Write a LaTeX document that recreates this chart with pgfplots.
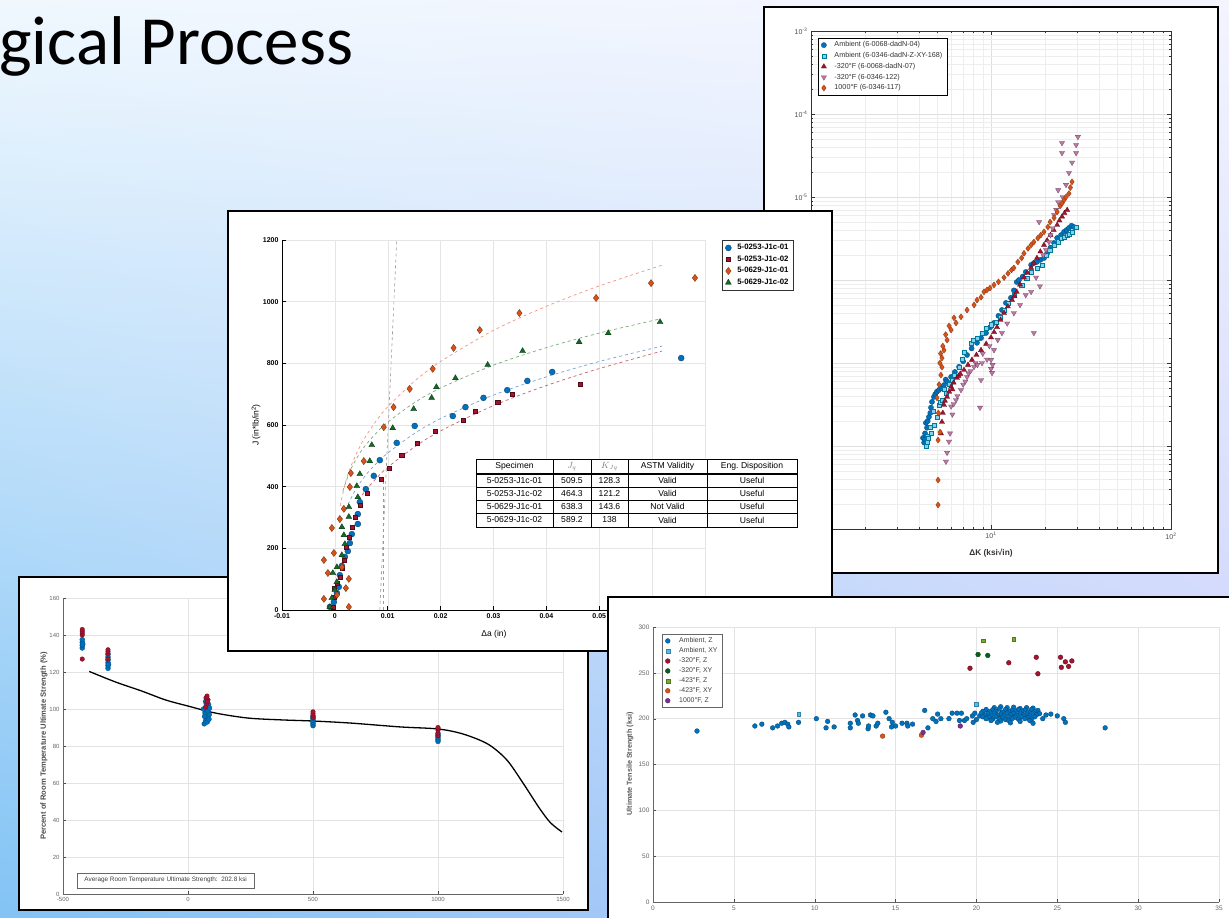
\documentclass[border=0pt]{standalone}
\usepackage{pgfplots}
\pgfplotsset{compat=1.18}
\usetikzlibrary{shadings}
\usepackage{fontspec}
\setmainfont{Liberation Sans}
\newfontfamily\titlefont{Carlito}
\definecolor{mblue}{RGB}{0,114,189}
\definecolor{mcyan}{RGB}{77,190,238}
\definecolor{mred}{RGB}{162,20,47}
\definecolor{mpink}{RGB}{190,120,165}
\definecolor{morange}{RGB}{217,83,25}
\definecolor{mgreen}{RGB}{20,105,40}
\definecolor{dgreen}{RGB}{0,100,30}
\definecolor{lgreen}{RGB}{119,172,48}
\definecolor{mpurple}{RGB}{126,47,142}
\definecolor{bgUL}{RGB}{240,248,254}
\definecolor{bgUR}{RGB}{244,244,255}
\definecolor{bgLL}{RGB}{130,195,245}
\definecolor{bgLR}{RGB}{195,205,250}
\definecolor{fitO}{RGB}{240,150,130}
\definecolor{fitG}{RGB}{120,170,120}
\definecolor{fitB}{RGB}{120,160,220}
\definecolor{fitR}{RGB}{205,95,105}
\definecolor{cyanedge}{RGB}{0,120,150}
\begin{document}
\begin{tikzpicture}
\useasboundingbox (0pt,0pt) rectangle (1229pt,918pt);
\clip (0pt,0pt) rectangle (1229pt,918pt);
\shade[upper left=bgUL, upper right=bgUR, lower left=bgLL, lower right=bgLR] (0pt,0pt) rectangle (1229pt,918pt);
\node[anchor=base west, font=\titlefont\fontsize{69}{80}\selectfont, inner sep=0pt] at (-1pt,853pt) {gical Process};

% ================= Panel A (log-log) =================
\fill[white] (764pt,345pt) rectangle (1218pt,911pt);
\draw[line width=1.5pt] (764pt,345pt) rectangle (1218pt,911pt);
\begin{axis}[at={(811pt,389pt)}, anchor=south west, width=360pt, height=498pt, scale only axis,
  xmode=log, ymode=log, xmin=1, xmax=100, ymin=1e-9, ymax=1e-3,
  axis line style={black!80, line width=0.6pt},
  tick pos=both, tick align=inside, major tick length=4pt, minor tick length=2pt,
  tick style={black!80},
  grid=both, major grid style={gray!25}, minor grid style={gray!14},
  xtick={1,10,100}, xticklabels={,10\textsuperscript{1},10\textsuperscript{2}},
  ytick={1e-9,1e-8,1e-7,1e-6,1e-5,1e-4,1e-3},
  yticklabels={10\textsuperscript{-9},10\textsuperscript{-8},10\textsuperscript{-7},10\textsuperscript{-6},10\textsuperscript{-5},10\textsuperscript{-4},10\textsuperscript{-3}},
  tick label style={font=\fontsize{7}{8}\selectfont, text=black!70},
  legend style={at={(0.0194,0.986)}, anchor=north west, font=\fontsize{7.2}{8}\selectfont, draw=black, line width=0.6pt, inner xsep=3pt, inner ysep=1.5pt, row sep=0pt, text=black!80, /tikz/every odd column/.append style={column sep=6pt}},
  legend cell align=left]
\addplot[only marks, mark=*, mark size=2.6pt, mark options={fill=mblue, draw=mblue!60!black, line width=0.3pt}] coordinates {
(4.19,1.25e-8) (4.25,1.1e-8) (4.30,1.42e-8) (4.3,1.2e-8) (4.35,1.9e-8) (4.41,1.66e-8) (4.45,2.0e-8) (4.52,2.24e-8) (4.6,2.5e-8) (4.64,2.9e-8) (4.7,3.4e-8) (4.82,3.9e-8) (4.9,4.2e-8) (5.0,4.5e-8) (5.14,4.73e-8) (5.3,5.0e-8) (5.48,5.43e-8) (5.6,6.3e-8) (5.7,6.0e-8) (6.0,6.8e-8) (6.3,7.8e-8) (6.64,9.0e-8) (7.0,1.05e-7) (7.36,1.25e-7) (7.8,1.5e-7) (8.36,1.75e-7) (8.8,2.0e-7) (9.38,2.3e-7) (9.9,2.7e-7) (10.39,3.04e-7) (11.0,3.7e-7) (11.5,4.35e-7) (12.1,5.3e-7) (12.9,6.1e-7) (13.4,7.5e-7) (13.9,9.45e-7) (14.3,1.0e-6) (15.0,1.1e-6) (15.6,1.25e-6) (16.7,1.52e-6) (17.3,1.6e-6) (18.0,1.65e-6) (18.8,1.75e-6) (19.7,1.84e-6) (20.5,2.1e-6) (21.4,2.45e-6) (22.4,2.8e-6) (23.3,3.21e-6) (24.5,3.48e-6) (25.45,3.8e-6) (26.3,4.0e-6) (27.1,4.24e-6) (28.0,4.5e-6) (28.9,4.35e-6)};
\addlegendentry{Ambient (6-0068-dadN-04)}
\addplot[only marks, mark=square*, mark size=2.1pt, mark options={fill=mcyan!70, draw=cyanedge, line width=0.4pt}] coordinates {
(4.35,9.9e-9) (4.41,1.1e-8) (4.4,1.3e-8) (4.5,1.25e-8) (4.6,1.7e-8) (4.64,1.42e-8) (4.75,2.6e-8) (4.85,1.8e-8) (5.01,2.24e-8) (5.14,3.12e-8) (5.2,3.4e-8) (5.35,3.6e-8) (5.5,4.8e-8) (5.62,4.35e-8) (5.9,5.5e-8) (6.1,6.2e-8) (6.23,7.16e-8) (6.64,9.0e-8) (6.9,1.1e-7) (7.08,1.36e-7) (7.74,1.75e-7) (8.0,1.9e-7) (8.36,2.0e-7) (8.9,2.3e-7) (9.38,2.62e-7) (10.0,2.9e-7) (10.66,3.1e-7) (11.2,3.6e-7) (11.81,4.35e-7) (12.5,5.2e-7) (13.5,6.6e-7) (14.8,8.71e-7) (15.8,1.05e-6) (16.7,1.25e-6) (18.0,1.4e-6) (19.2,1.52e-6) (20.2,2.0e-6) (21.2,2.3e-6) (22.4,2.64e-6) (23.5,2.9e-6) (24.5,3.21e-6) (25.4,3.3e-6) (26.5,3.48e-6) (27.3,3.6e-6) (28.2,3.8e-6) (29.7,4.35e-6)};
\addlegendentry{Ambient (6-0346-dadN-Z-XY-168)}
\addplot[only marks, mark=triangle*, mark size=3pt, mark options={fill=mred, draw=mred!60!black, line width=0.3pt}] coordinates {
(5.27,1.42e-8) (5.34,1.95e-8) (5.4,2.5e-8) (5.48,3.12e-8) (5.55,3.5e-8) (5.70,3.9e-8) (5.85,4.5e-8) (6.0,5.15e-8) (6.1,4.8e-8) (6.2,5.8e-8) (6.47,6.6e-8) (6.6,7.0e-8) (6.75,7.4e-8) (7.08,8.24e-8) (7.45,9.5e-8) (7.84,1.09e-7) (8.3,1.25e-7) (8.8,1.43e-7) (9.4,1.7e-7) (10.0,2.03e-7) (10.4,2.35e-7) (10.8,2.7e-7) (11.3,3.3e-7) (11.81,4.0e-7) (12.4,4.8e-7) (13.08,5.74e-7) (13.5,6.4e-7) (13.9,7.2e-7) (14.5,8.8e-7) (15.25,1.07e-6) (15.9,1.22e-6) (16.7,1.4e-6) (17.3,1.6e-6) (18.0,1.84e-6) (18.8,2.2e-6) (19.7,2.64e-6) (20.5,3.0e-6) (21.4,3.48e-6) (22.3,4.0e-6) (23.3,4.6e-6) (24.0,5.2e-6) (24.8,5.8e-6) (25.6,6.4e-6) (26.5,6.97e-6)};
\addlegendentry{-320°F (6-0068-dadN-07)}
\addplot[only marks, mark=triangle*, mark size=3pt, mark options={rotate=180, fill=mpink, draw=mpink!60!black, line width=0.3pt}] coordinates {
(5.62,6.5e-9) (5.70,8.3e-9) (5.84,1.13e-8) (5.92,1.42e-8) (6.0,3.0e-8) (6.1,2.4e-8) (6.2,3.2e-8) (6.39,3.58e-8) (6.5,4.0e-8) (6.81,4.73e-8) (7.0,5.5e-8) (7.2,6.0e-8) (7.36,6.8e-8) (7.5,7.5e-8) (7.7,8.0e-8) (8.05,9.0e-8) (8.2,1.0e-7) (8.4,9.5e-8) (8.8,6.24e-8) (8.69,2.9e-8) (8.91,1.0e-7) (9.0,1.3e-7) (9.5,1.1e-7) (9.8,1.6e-7) (10.0,8.5e-8) (10.2,9.5e-8) (10.13,7.6e-8) (10.0,1.09e-7) (10.39,1.43e-7) (10.9,1.9e-7) (11.5,2.3e-7) (12.3,3.0e-7) (13.4,4.0e-7) (14.5,5.0e-7) (15.6,6.6e-7) (17.3,2.3e-7) (16.7,7.2e-7) (17.8,1.07e-6) (18.7,8.4e-7) (18.5,5.0e-6) (19.5,2.0e-6) (20.2,2.3e-6) (21.0,2.87e-6) (21.4,3.48e-6) (22.0,4.2e-6) (22.4,6.07e-6) (23.0,7.0e-6) (23.6,8.7e-6) (23.6,1.21e-5) (25.0,1.0e-5) (26.1,1.4e-5) (27.1,1.95e-5) (28.2,2.6e-5) (29.7,3.39e-5) (24.8,3.39e-5) (24.8,4.48e-5) (29.7,4.24e-5) (30.4,5.3e-5)};
\addlegendentry{-320°F (6-0346-122)}
\addplot[only marks, mark=diamond*, mark size=3pt, mark options={fill=morange, draw=morange!60!black, line width=0.3pt}] coordinates {
(5.08,1.95e-9) (5.08,3.89e-9) (5.08,1.18e-8) (5.21,1.47e-8) (5.1,2.5e-8) (5.01,3.8e-8) (5.15,5.5e-8) (5.27,7.16e-8) (5.34,8.9e-8) (5.2,1.0e-7) (5.34,1.15e-7) (5.25,1.3e-7) (5.48,1.43e-7) (5.4,1.6e-7) (5.70,1.89e-7) (5.6,2.2e-7) (6.0,2.5e-7) (5.85,2.8e-7) (6.23,3.5e-7) (6.39,3.04e-7) (6.81,3.6e-7) (7.36,4.35e-7) (8.05,5.0e-7) (8.36,5.74e-7) (8.8,6.2e-7) (9.14,7.2e-7) (9.5,7.58e-7) (9.87,8.0e-7) (10.39,8.71e-7) (11.0,9.5e-7) (11.81,1.07e-6) (12.43,1.2e-6) (13.0,1.32e-6) (13.4,1.4e-6) (14.1,1.65e-6) (14.8,1.84e-6) (15.25,2.1e-6) (16.06,2.4e-6) (16.7,2.64e-6) (17.3,2.87e-6) (18.2,3.2e-6) (18.9,3.48e-6) (19.7,3.8e-6) (20.7,4.35e-6) (21.3,5.0e-6) (22.4,5.6e-6) (23.3,6.6e-6) (24.2,7.8e-6) (24.8,8.4e-6) (25.45,9.2e-6) (26.1,1.0e-5) (27.1,1.1e-5) (27.6,1.3e-5) (28.18,1.52e-5)};
\addlegendentry{1000°F (6-0346-117)}
\end{axis}
\node[font=\bfseries\fontsize{8.3}{9}\selectfont, text=black!80] at (991pt,365pt) {ΔK (ksi√in)};

% ================= Panel C (bottom left) =================
\fill[white] (19pt,8pt) rectangle (588pt,341pt);
\draw[line width=1.5pt] (19pt,8pt) rectangle (588pt,341pt);
\begin{axis}[at={(63pt,24pt)}, anchor=south west, width=500pt, height=296pt, scale only axis,
  xmin=-500, xmax=1500, ymin=0, ymax=160,
  axis lines*=left, axis line style={black!60, line width=0.6pt},
  tick align=inside, major tick length=3pt, tick style={black!70},
  grid=major, major grid style={gray!22},
  xtick={-500,0,500,1000,1500}, xticklabels={-500,0,500,1000,1500},
  ytick={0,20,40,60,80,100,120,140,160}, yticklabels={0,20,40,60,80,100,120,140,160},
  tick label style={font=\fontsize{6}{7}\selectfont, text=black!60}]
\addplot[black, line width=1.3pt, smooth] coordinates {
(-395,120.3) (-290,114.6) (-185,109.7) (-90,104.9) (0,101.6) (110,97.8) (240,95.1) (375,94.1) (500,93.5) (650,92.4) (850,90.3) (1000,89.2) (1100,86.5) (1200,81) (1275,72.5) (1340,60) (1405,46.5) (1450,38.5) (1496,33.5)};
\addplot[only marks, mark=*, mark size=2.5pt, mark options={fill=mblue, draw=mblue!70!black, line width=0.3pt}] coordinates {
(-423,133) (-423,134.5) (-423,136) (-423,137.5) (-421,135)
(-320,122) (-320,123.5) (-320,125) (-320,126.5) (-320,128) (-320,129.5) (-318,124)
(65,92) (70,93.5) (75,95) (80,96.5) (68,98) (72,99.5) (78,101) (82,102.5) (70,104) (75,105) (85,97) (62,100) (77,93) (84,94.5) (66,96) (80,99) (74,102.5) (86,100.5)
(500,91) (500,92) (500,93) (500,94) (500,95) (500,96)
(1000,82.5) (1000,83.5) (1000,84.5) (1000,85.5) (1000,86.5)};
\addplot[only marks, mark=*, mark size=2.3pt, mark options={fill=mred, draw=mred!70!black, line width=0.3pt}] coordinates {
(-423,127) (-423,140) (-423,141) (-423,142) (-423,143)
(-320,127) (-320,130) (-320,131) (-320,132)
(70,101) (75,103) (80,105) (72,106) (76,107) (78,104)
(500,95.5) (500,96.5) (500,97.5) (500,98.5)
(1000,85.5) (1000,87) (1000,88.5) (1000,89.5) (1000,90)};
\end{axis}
\node[rotate=90, font=\bfseries\fontsize{7.6}{9}\selectfont, text=black!70] at (44pt,172pt) {Percent of Room Temperature Ultimate Strength (\%)};
\node[draw=black!60, fill=white, anchor=south west, minimum width=177pt, minimum height=15pt, inner sep=1pt, font=\fontsize{6.4}{7}\selectfont, text=black!75] at (77pt,30pt) {Average Room Temperature Ultimate Strength:\ \ 202.8 ksi};

% ================= Panel B (J-R) =================
\fill[white] (228pt,267pt) rectangle (832pt,707pt);
\draw[line width=1.5pt] (228pt,267pt) rectangle (832pt,707pt);
\begin{axis}[at={(282pt,308pt)}, anchor=south west, width=423pt, height=370pt, scale only axis,
  xmin=-0.01, xmax=0.07, ymin=0, ymax=1200,
  axis lines*=left, axis line style={black, line width=0.9pt},
  tick align=inside, major tick length=4pt, tick style={black, line width=0.8pt},
  grid=major, major grid style={gray!20},
  xtick={-0.01,0,0.01,0.02,0.03,0.04,0.05,0.06,0.07},
  xticklabels={-0.01,0,0.01,0.02,0.03,0.04,0.05,0.06,0.07},
  ytick={0,200,400,600,800,1000,1200}, yticklabels={0,200,400,600,800,1000,1200},
  tick label style={font=\bfseries\fontsize{7}{8}\selectfont},
  legend style={at={(1.04,1)}, anchor=north west, font=\bfseries\fontsize{7.8}{8.5}\selectfont, draw=black!80, line width=0.9pt, inner xsep=3pt, inner ysep=2pt, row sep=0.6pt, /tikz/every odd column/.append style={column sep=4pt}},
  legend cell align=left]
\addplot[forget plot, gray!80, dashed, line width=0.6pt] coordinates {(0.0085,0) (0.0117,1200)};
\addplot[forget plot, gray!80, dashed, line width=0.6pt] coordinates {(0.0092,0) (0.0092,430)};
\addplot[forget plot, smooth, dashed, line width=0.7pt, color=fitO] coordinates {(0.001,338) (0.002,413) (0.003,465) (0.005,539) (0.0075,606) (0.01,659) (0.015,741) (0.02,806) (0.03,907) (0.04,985) (0.05,1051) (0.062,1119)};
\addplot[forget plot, smooth, dashed, line width=0.7pt, color=fitG] coordinates {(0.0015,386) (0.003,456) (0.005,516) (0.0075,568) (0.01,609) (0.015,672) (0.02,720) (0.03,794) (0.04,851) (0.05,898) (0.0615,944)};
\addplot[forget plot, smooth, dashed, line width=0.7pt, color=fitB] coordinates {(0.0025,343) (0.004,393) (0.006,441) (0.008,478) (0.01,509) (0.015,572) (0.02,621) (0.03,697) (0.04,756) (0.05,806) (0.0619,856)};
\addplot[forget plot, smooth, dashed, line width=0.7pt, color=fitR] coordinates {(0.0045,357) (0.006,392) (0.008,430) (0.01,463) (0.015,528) (0.02,581) (0.03,663) (0.04,728) (0.05,783) (0.0619,840)};
\addplot[only marks, mark=*, mark size=3pt, mark options={fill=mblue, draw=mblue!50!black, line width=0.3pt}] coordinates {
(-0.00094,10) (-0.00019,26) (0.00038,55) (0.00075,75) (0.00094,113) (0.00132,143) (0.00189,172) (0.00245,191) (0.00283,217) (0.0032,246) (0.00434,279) (0.00434,311) (0.00472,350) (0.00585,392) (0.00736,435) (0.0085,486) (0.0117,542) (0.0151,597) (0.0223,629) (0.0247,658) (0.0281,688) (0.0326,713) (0.0364,743) (0.0411,772) (0.0655,817)};
\addlegendentry{5-0253-J1c-01}
\addplot[only marks, mark=square*, mark size=2.1pt, mark options={fill=mred, draw=mred!50!black, line width=0.3pt}] coordinates {
(-0.00038,10) (-0.00019,42) (-0.00019,71) (0.00038,88) (0.00094,107) (0.00132,136) (0.0017,162) (0.00208,204) (0.00264,237) (0.0032,269) (0.00377,302) (0.00472,340) (0.00604,379) (0.00868,425) (0.0102,460) (0.01264,503) (0.0155,542) (0.0189,580) (0.0242,616) (0.0266,645) (0.0308,675) (0.0336,700) (0.0464,733)};
\addlegendentry{5-0253-J1c-02}
\addplot[only marks, mark=diamond*, mark size=3.6pt, mark options={fill=morange, draw=morange!50!black, line width=0.3pt}] coordinates {
(0.00264,10) (-0.00208,36) (0.0004,49) (0.00208,71) (0.00264,101) (-0.00132,120) (0.00132,139) (-0.00208,162) (-0.00019,185) (-0.00057,266) (0.00094,295) (0.0017,328) (0.00283,399) (0.00302,444) (0.00547,483) (0.00925,593) (0.0111,658) (0.01415,717) (0.0185,782) (0.02245,850) (0.0274,908) (0.0349,963) (0.0494,1012) (0.0598,1060) (0.0681,1077)};
\addlegendentry{5-0629-J1c-01}
\addplot[only marks, mark=triangle*, mark size=3.4pt, mark options={fill=mgreen, draw=mgreen!50!black, line width=0.3pt}] coordinates {
(-0.00094,10) (-0.00057,39) (0,65) (0.00038,91) (-0.00038,120) (0.00038,139) (0.00132,178) (0.00189,214) (0.0017,243) (0.00132,269) (0.00264,302) (0.00264,334) (0.00434,366) (0.00415,402) (0.00472,441) (0.0066,483) (0.00698,535) (0.01094,590) (0.0149,652) (0.0183,688) (0.0192,723) (0.0228,752) (0.0289,795) (0.0355,840) (0.0462,869) (0.0517,898) (0.0615,934)};
\addlegendentry{5-0629-J1c-02}
\end{axis}
\node[rotate=90, font=\fontsize{8.5}{9}\selectfont] at (256pt,493pt) {J (in*lb/in\textsuperscript{2})};
\node[font=\fontsize{8.5}{9}\selectfont] at (494pt,284pt) {Δa (in)};
% table
\fill[white] (476pt,391pt) rectangle (797pt,459pt);
\draw[line width=0.8pt] (476pt,391pt) rectangle (797pt,459pt);
\draw[line width=1.3pt] (476pt,444pt) -- (797pt,444pt);
\draw[line width=0.8pt] (476pt,431pt) -- (797pt,431pt) (476pt,418pt) -- (797pt,418pt) (476pt,405pt) -- (797pt,405pt);
\draw[line width=0.8pt] (553pt,391pt) -- (553pt,459pt) (591pt,391pt) -- (591pt,459pt) (628pt,391pt) -- (628pt,459pt) (707pt,391pt) -- (707pt,459pt);
\begin{scope}[every node/.style={font=\fontsize{8.6}{9}\selectfont, inner sep=0pt}]
\node at (514.5pt,451.5pt) {Specimen};
\node at (572pt,451.5pt) {\textcolor{gray}{$J_q$}};
\node at (609.5pt,451.5pt) {\textcolor{gray}{$K_{Jq}$}};
\node at (667.5pt,451.5pt) {ASTM Validity};
\node at (752pt,451.5pt) {Eng.\ Disposition};
\node at (514.5pt,437.5pt) {5-0253-J1c-01}; \node at (572pt,437.5pt) {509.5}; \node at (609.5pt,437.5pt) {128.3}; \node at (667.5pt,437.5pt) {Valid}; \node at (752pt,437.5pt) {Useful};
\node at (514.5pt,424.5pt) {5-0253-J1c-02}; \node at (572pt,424.5pt) {464.3}; \node at (609.5pt,424.5pt) {121.2}; \node at (667.5pt,424.5pt) {Valid}; \node at (752pt,424.5pt) {Useful};
\node at (514.5pt,411.5pt) {5-0629-J1c-01}; \node at (572pt,411.5pt) {638.3}; \node at (609.5pt,411.5pt) {143.6}; \node at (667.5pt,411.5pt) {Not Valid}; \node at (752pt,411.5pt) {Useful};
\node at (514.5pt,398pt) {5-0629-J1c-02}; \node at (572pt,398pt) {589.2}; \node at (609.5pt,398pt) {138}; \node at (667.5pt,398pt) {Valid}; \node at (752pt,398pt) {Useful};
\end{scope}

% ================= Panel D (bottom right) =================
\fill[white] (608pt,-5pt) rectangle (1235pt,321pt);
\draw[line width=1.5pt] (608pt,-5pt) rectangle (1235pt,321pt);
\begin{axis}[at={(653pt,16pt)}, anchor=south west, width=566pt, height=275pt, scale only axis,
  xmin=0, xmax=35, ymin=0, ymax=300,
  axis lines*=left, axis line style={black!60, line width=0.7pt},
  tick align=inside, major tick length=3pt, tick style={black!70},
  grid=major, major grid style={gray!22},
  xtick={0,5,10,15,20,25,30,35}, xticklabels={0,5,10,15,20,25,30,35},
  ytick={0,50,100,150,200,250,300}, yticklabels={0,50,100,150,200,250,300},
  tick label style={font=\fontsize{6.5}{7}\selectfont, text=black!60},
  legend style={at={(0.016,0.975)}, anchor=north west, font=\fontsize{6.9}{7.5}\selectfont, draw=black!60, line width=0.6pt, inner xsep=3pt, inner ysep=1.5pt, row sep=-0.4pt, text=black!75, /tikz/every odd column/.append style={column sep=7pt}},
  legend cell align=left]
\addplot[only marks, mark=*, mark size=2.4pt, mark options={fill=mblue, draw=mblue!60!black, line width=0.3pt}] coordinates {
(2.72,186.5) (6.3,192) (6.73,194) (7.4,190) (7.7,192) (7.96,195) (8.15,196) (8.33,194) (8.4,191) (9.0,196) (10.1,200) (10.7,190) (10.8,197) (11.2,191) (12.2,190) (12.2,195) (12.5,204) (12.65,198) (12.7,195) (12.96,203) (13.3,189) (13.33,192) (13.45,204) (13.6,203) (13.8,192) (13.9,195) (14.4,207) (14.6,200) (14.75,191) (14.8,196) (15.0,192) (15.4,195) (15.7,195) (15.75,192) (16.05,194) (16.8,209) (17.0,190) (17.3,200) (17.5,197) (17.6,205) (17.8,200) (18.3,200) (18.5,206) (18.8,206) (18.95,198) (19.07,206) (19.26,198) (19.4,200) (19.75,203) (19.8,196) (19.9,206)
(20.0,199) (20.2,203)
(21.1,212) (21.5,213) (21.9,212) (22.3,212.5) (22.7,211) (23.1,212) (23.5,211.5)
(20.6,210) (21.0,209.5) (21.4,210.5) (21.8,210) (22.2,209) (22.6,210) (23.0,209.5) (23.4,210) (23.8,209)
(20.4,208) (20.8,207.5) (21.2,208) (21.6,207) (22.0,208) (22.4,207.5) (22.8,208) (23.2,207) (23.6,207.5)
(20.3,206) (20.7,205.5) (21.1,206) (21.5,205) (21.9,206) (22.3,205.5) (22.7,206) (23.1,205) (23.5,206) (23.9,205.5)
(20.5,204) (20.9,203.5) (21.3,204) (21.7,203) (22.1,204) (22.5,203.5) (22.9,204) (23.3,203) (23.7,204)
(20.4,202) (20.8,201.5) (21.2,202) (21.6,201) (22.0,202) (22.4,201.5) (22.8,202) (23.2,201) (23.6,202)
(20.6,200) (21.0,199.5) (21.4,200) (21.8,199) (22.2,200) (22.6,199.5) (23.0,200) (23.4,199.5)
(20.9,198) (21.5,197.5) (22.0,198) (22.7,197) (23.3,198)
(21.3,196) (22.1,195.5) (23.5,195)
(24.1,200) (24.3,204) (24.6,205) (25.0,203) (25.4,200) (25.5,196) (27.96,190)};
\addlegendentry{Ambient, Z}
\addplot[only marks, mark=square*, mark size=1.9pt, mark options={fill=mcyan, draw=mcyan!70!black, line width=0.3pt}] coordinates {(9.0,205) (20.0,216)};
\addlegendentry{Ambient, XY}
\addplot[only marks, mark=*, mark size=2.4pt, mark options={fill=mred, draw=mred!60!black, line width=0.3pt}] coordinates {(19.6,255) (22.0,261) (23.7,267) (23.8,249) (25.2,267) (25.5,262) (25.9,263) (25.7,257) (25.25,256)};
\addlegendentry{-320°F, Z}
\addplot[only marks, mark=*, mark size=2.4pt, mark options={fill=dgreen, draw=dgreen!60!black, line width=0.3pt}] coordinates {(20.1,270) (20.7,269)};
\addlegendentry{-320°F, XY}
\addplot[only marks, mark=square*, mark size=1.9pt, mark options={fill=lgreen, draw=lgreen!70!black, line width=0.3pt}] coordinates {(20.4,285) (22.3,287)};
\addlegendentry{-423°F, Z}
\addplot[only marks, mark=*, mark size=2.4pt, mark options={fill=morange, draw=morange!60!black, line width=0.3pt}] coordinates {(14.2,181) (16.6,182)};
\addlegendentry{-423°F, XY}
\addplot[only marks, mark=*, mark size=2.4pt, mark options={fill=mpurple, draw=mpurple!60!black, line width=0.3pt}] coordinates {(16.7,185) (19.0,192)};
\addlegendentry{1000°F, Z}
\end{axis}
\node[rotate=90, font=\bfseries\fontsize{7.2}{8}\selectfont, text=black!65] at (630pt,154pt) {Ultimate Tensile Strength (ksi)};
\end{tikzpicture}
\end{document}
